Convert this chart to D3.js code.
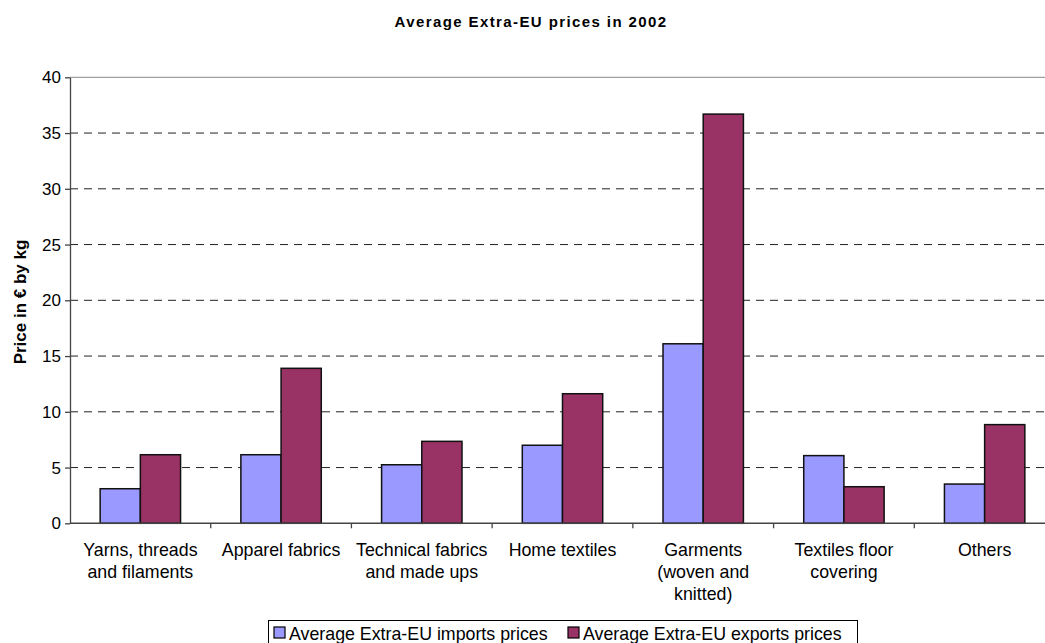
<!DOCTYPE html>
<html>
<head>
<meta charset="utf-8">
<script src="https://cdn.jsdelivr.net/npm/d3@7"></script>
<style>
  html, body { margin: 0; padding: 0; background: #fff; }
  svg { display: block; font-family: "Liberation Sans", Arial, sans-serif; }
</style>
</head>
<body>
<svg id="chart" width="1045" height="643"></svg>
<script>
// Product groups (x axis), each label split into its display lines
const categories = [
  ["Yarns, threads", "and filaments"],
  ["Apparel fabrics"],
  ["Technical fabrics", "and made ups"],
  ["Home textiles"],
  ["Garments", "(woven and", "knitted)"],
  ["Textiles floor", "covering"],
  ["Others"]
];
const seriesNames = ["Average Extra-EU imports prices", "Average Extra-EU exports prices"];
const importPrices = [3.1, 6.15, 5.25, 7.0, 16.1, 6.07, 3.52];
const exportPrices = [6.15, 13.9, 7.35, 11.62, 36.7, 3.28, 8.85];
const yTicks = [0, 5, 10, 15, 20, 25, 30, 35, 40];
const seriesColors = ["#9999FF", "#993366"];

const svg = d3.select("#chart");
const margin = { left: 70, top: 77.3, right: 1055, bottom: 523.3 };

const x = d3.scaleBand()
  .domain(d3.range(categories.length))
  .range([margin.left, margin.right])
  .paddingInner(0)
  .paddingOuter(0);

const y = d3.scaleLinear().domain([0, 40]).range([margin.bottom, margin.top]);

// bars: two per group, gap of 1.5 bar widths between groups
const barW = x.bandwidth() / 3.5;
const sub = d3.scaleBand().domain([0, 1]).range([0, 2 * barW]);

// dashed gridlines
svg.append("g")
  .selectAll("line")
  .data(yTicks.filter(t => t > 0 && t < 40))
  .join("line")
  .attr("x1", margin.left)
  .attr("x2", 1045)
  .attr("y1", d => y(d))
  .attr("y2", d => y(d))
  .attr("stroke", "#222")
  .attr("stroke-width", 1)
  .attr("stroke-dasharray", "8,6");

// top border of plot area
svg.append("line")
  .attr("x1", margin.left).attr("x2", 1045)
  .attr("y1", y(40)).attr("y2", y(40))
  .attr("stroke", "#888").attr("stroke-width", 1);

const data = categories.map((c, i) => [importPrices[i], exportPrices[i]]);

const groups = svg.append("g")
  .selectAll("g")
  .data(data)
  .join("g")
  .attr("transform", (d, i) => `translate(${x(i) + (x.bandwidth() - 2 * barW) / 2},0)`);

groups.selectAll("rect")
  .data(d => d.map((v, s) => ({ v, s })))
  .join("rect")
  .attr("x", d => sub(d.s))
  .attr("width", barW)
  .attr("y", d => y(d.v))
  .attr("height", d => y(0) - y(d.v))
  .attr("fill", d => seriesColors[d.s])
  .attr("stroke", "#111")
  .attr("stroke-width", 1.5);

// y axis
const yAxis = d3.axisLeft(y).tickValues(yTicks).tickSize(5).tickPadding(4).tickSizeOuter(0);
const yg = svg.append("g").attr("transform", `translate(${margin.left},0)`).call(yAxis);
yg.select(".domain").attr("stroke", "#444").attr("stroke-width", 1.3);
yg.selectAll(".tick line").attr("stroke", "#444").attr("stroke-width", 1.3);
yg.selectAll(".tick text")
  .attr("font-size", 17)
  .attr("font-family", "Liberation Sans, Arial, sans-serif")
  .attr("fill", "#000");

// x axis with ticks between groups
const xg = svg.append("g");
xg.append("line")
  .attr("x1", margin.left).attr("x2", 1045)
  .attr("y1", y(0)).attr("y2", y(0))
  .attr("stroke", "#444").attr("stroke-width", 1.5);
xg.selectAll("line.tick")
  .data(d3.range(1, categories.length))
  .join("line")
  .attr("class", "tick")
  .attr("x1", i => x(i)).attr("x2", i => x(i))
  .attr("y1", y(0)).attr("y2", y(0) + 5)
  .attr("stroke", "#444").attr("stroke-width", 1.3);

const labels = xg.selectAll("text")
  .data(categories)
  .join("text")
  .attr("text-anchor", "middle")
  .attr("font-size", 17.8)
  .attr("fill", "#000")
  .attr("transform", (d, i) => `translate(${x(i) + x.bandwidth() / 2},556)`);
labels.selectAll("tspan")
  .data(d => d)
  .join("tspan")
  .attr("x", 0)
  .attr("dy", (d, j) => j === 0 ? 0 : 22)
  .text(d => d);

// title
svg.append("text")
  .attr("x", 531)
  .attr("y", 27)
  .attr("text-anchor", "middle")
  .attr("font-size", 15)
  .attr("font-weight", "bold")
  .attr("letter-spacing", "1.4px")
  .text("Average Extra-EU prices in 2002");

// y axis title
svg.append("text")
  .attr("transform", "translate(26,302) rotate(-90)")
  .attr("text-anchor", "middle")
  .attr("font-size", 17)
  .attr("font-weight", "bold")
  .text("Price in € by kg");

// legend
const legend = svg.append("g");
legend.append("rect")
  .attr("x", 268.5).attr("y", 620.5)
  .attr("width", 589).attr("height", 30)
  .attr("fill", "#fff").attr("stroke", "#000").attr("stroke-width", 1);
const legendX = [274, 568];
const items = legend.selectAll("g.item")
  .data(seriesNames)
  .join("g")
  .attr("class", "item")
  .attr("transform", (d, i) => `translate(${legendX[i]},0)`);
items.append("rect")
  .attr("x", 0).attr("y", 627)
  .attr("width", 11).attr("height", 11)
  .attr("fill", (d, i) => seriesColors[i])
  .attr("stroke", "#000").attr("stroke-width", 1.2);
items.append("text")
  .attr("x", 15).attr("y", 640)
  .attr("font-size", 17.8)
  .text(d => d);
</script>
</body>
</html>
